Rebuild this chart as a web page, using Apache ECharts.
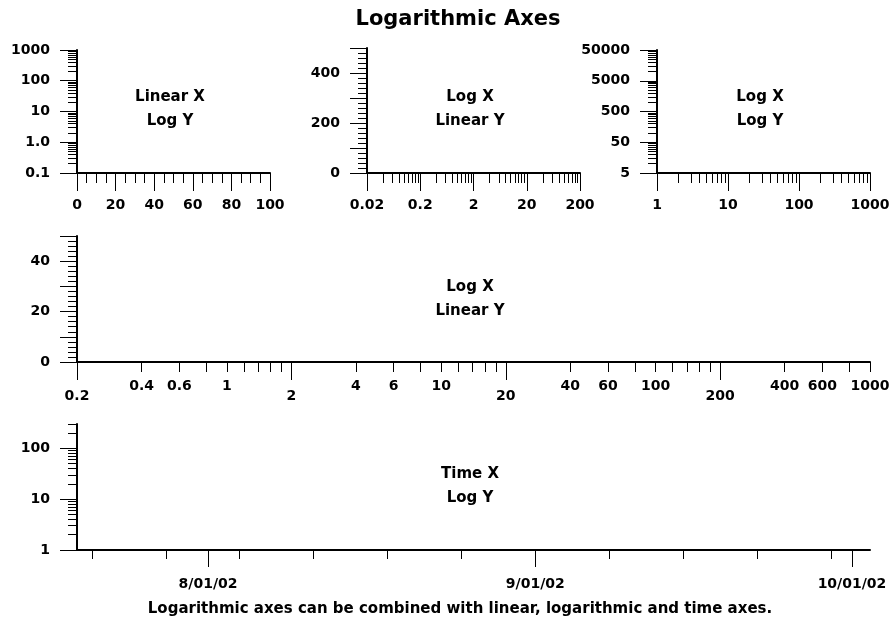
<!DOCTYPE html>
<html>
<head>
<meta charset="utf-8">
<script src="https://cdn.jsdelivr.net/npm/echarts@6/dist/echarts.min.js"></script>
<style>
  html, body { margin: 0; padding: 0; background: #fff; }
  #main { width: 891px; height: 622px; }
</style>
</head>
<body>
<div id="main"></div>
<script>
// panel 1: linear x, log y
var p1XMin = 0, p1XMax = 100;
var p1YDecades = [0.1, 1, 10, 100, 1000];
var p1YLabels = ['0.1', '1.0', '10', '100', '1000'];

// panel 2: log x, linear y
var p2XDecades = [0.02, 0.2, 2, 20, 200];
var p2XLabels = ['0.02', '0.2', '2', '20', '200'];
var p2YMin = 0, p2YMax = 500;
var p2YLabels = [0, 200, 400];

// panel 3: log x, log y
var p3XDecades = [1, 10, 100, 1000];
var p3XLabels = ['1', '10', '100', '1000'];
var p3YDecades = [5, 50, 500, 5000, 50000];
var p3YLabels = ['5', '50', '500', '5000', '50000'];

// panel 4: wide log x, linear y
var p4XMin = 0.2, p4XMax = 1000;
var p4XDecades = [0.2, 2, 20, 200];
var p4XLowLabels = ['0.2', '2', '20', '200'];
var p4XHighLabels = [0.4, 0.6, 1, 4, 6, 10, 40, 60, 100, 400, 600, 1000];
var p4YMin = 0, p4YMax = 50;
var p4YLabels = [0, 20, 40];

// panel 5: time x, log y
var p5XMin = '2002-07-19T14:00', p5XMax = '2002-10-02T17:00';
var p5XMonths = ['2002-08-01', '2002-09-01', '2002-10-01'];
var p5XWeeks = ['2002-07-21', '2002-07-28', '2002-08-04', '2002-08-11', '2002-08-18',
  '2002-08-25', '2002-09-01', '2002-09-08', '2002-09-15', '2002-09-22', '2002-09-29'];
var p5YDecades = [1, 10, 100];
var p5YLabels = ['1', '10', '100'];
var p5YMax = 300;

var minorSteps = [2, 3, 4, 5, 6, 7, 8, 9];

var ink = '#000';
var fontFam = 'DejaVu Sans';

function minorTicks(decades, max) {
  var out = [];
  decades.forEach(function (d) {
    minorSteps.forEach(function (s) {
      if (d * s <= max * 1.000001) out.push(d * s);
    });
  });
  return out;
}
function ts(s) {
  return new Date(s.length === 10 ? s + 'T00:00' : s).getTime();
}
function pad(n) { return (n < 10 ? '0' : '') + n; }
function dateFmt(v) {
  var d = new Date(v);
  return (d.getMonth() + 1) + '/' + pad(d.getDate()) + '/' + pad(d.getFullYear() % 100);
}
function lookup(vals, labels) {
  return function (v) {
    for (var i = 0; i < vals.length; i++) {
      if (Math.abs(Math.log(v / vals[i])) < 1e-6) return labels[i];
    }
    return '';
  };
}
function numFmt(v) { return String(+(+v).toPrecision(6)); }

function axis(grid, pos, type, min, max, c) {
  var a = {
    gridIndex: grid, type: type, position: pos, min: min, max: max,
    axisLine: { show: !!c.line, onZero: false, lineStyle: { color: ink, width: 2 } },
    axisTick: { show: true, inside: false, length: c.len, lineStyle: { color: ink, width: 1 } },
    minorTick: { show: false },
    splitLine: { show: false },
    axisLabel: { show: false },
    axisPointer: { show: false }
  };
  if (c.interval) a.interval = c.interval;
  if (c.ticks) a.axisTick.customValues = c.ticks;
  if (c.minor) a.minorTick = { show: true, splitNumber: c.minor, length: c.minorLen, lineStyle: { color: ink, width: 1 } };
  if (c.labels !== undefined) {
    a.axisLabel = {
      show: true, color: ink, fontFamily: fontFam, fontWeight: 'bold', fontSize: 14,
      margin: c.margin, hideOverlap: false
    };
    if (c.labels) a.axisLabel.customValues = c.labels;
    if (c.fmt) a.axisLabel.formatter = c.fmt;
  }
  return a;
}

var X_MAJ = 18, X_MIN = 10, Y_MAJ = 17, Y_MIN = 9;
var X_MARGIN = 25, Y_MARGIN = 27;

var p5Max = p5YMax;
var xAxes = [
  // panel 1
  axis(0, 'bottom', 'value', p1XMin, p1XMax, { line: true, len: X_MAJ, interval: 20, minor: 4, minorLen: X_MIN, labels: null, margin: X_MARGIN }),
  // panel 2
  axis(1, 'bottom', 'log', p2XDecades[0], p2XDecades[p2XDecades.length - 1], { line: true, len: X_MAJ, ticks: p2XDecades, labels: p2XDecades, fmt: lookup(p2XDecades, p2XLabels), margin: X_MARGIN }),
  axis(1, 'bottom', 'log', p2XDecades[0], p2XDecades[p2XDecades.length - 1], { len: X_MIN, ticks: minorTicks(p2XDecades, p2XDecades[p2XDecades.length - 1]) }),
  // panel 3
  axis(2, 'bottom', 'log', p3XDecades[0], p3XDecades[p3XDecades.length - 1], { line: true, len: X_MAJ, ticks: p3XDecades, labels: p3XDecades, fmt: lookup(p3XDecades, p3XLabels), margin: X_MARGIN }),
  axis(2, 'bottom', 'log', p3XDecades[0], p3XDecades[p3XDecades.length - 1], { len: X_MIN, ticks: minorTicks(p3XDecades, p3XDecades[p3XDecades.length - 1]) }),
  // panel 4
  axis(3, 'bottom', 'log', p4XMin, p4XMax, { line: true, len: X_MAJ, ticks: p4XDecades, labels: p4XDecades, fmt: lookup(p4XDecades, p4XLowLabels), margin: 27 }),
  axis(3, 'bottom', 'log', p4XMin, p4XMax, { len: X_MIN, ticks: minorTicks(p4XDecades, p4XMax), labels: p4XHighLabels, fmt: numFmt, margin: 17 }),
  // panel 5 (millisecond timestamps on a value scale)
  axis(4, 'bottom', 'value', ts(p5XMin), ts(p5XMax), { line: true, len: X_MAJ - 1, ticks: p5XMonths.map(ts), labels: p5XMonths.map(ts), fmt: dateFmt, margin: 27 }),
  axis(4, 'bottom', 'value', ts(p5XMin), ts(p5XMax), { len: X_MIN - 1, ticks: p5XWeeks.map(ts) })
];

var yAxes = [
  // panel 1
  axis(0, 'left', 'log', p1YDecades[0], p1YDecades[p1YDecades.length - 1], { line: true, len: Y_MAJ, ticks: p1YDecades, labels: p1YDecades, fmt: lookup(p1YDecades, p1YLabels), margin: Y_MARGIN }),
  axis(0, 'left', 'log', p1YDecades[0], p1YDecades[p1YDecades.length - 1], { len: Y_MIN, ticks: minorTicks(p1YDecades, p1YDecades[p1YDecades.length - 1]) }),
  // panel 2
  axis(1, 'left', 'value', p2YMin, p2YMax, { line: true, len: Y_MAJ, interval: 100, minor: 5, minorLen: Y_MIN, labels: p2YLabels, margin: Y_MARGIN }),
  // panel 3
  axis(2, 'left', 'log', p3YDecades[0], p3YDecades[p3YDecades.length - 1], { line: true, len: Y_MAJ, ticks: p3YDecades, labels: p3YDecades, fmt: lookup(p3YDecades, p3YLabels), margin: Y_MARGIN }),
  axis(2, 'left', 'log', p3YDecades[0], p3YDecades[p3YDecades.length - 1], { len: Y_MIN, ticks: minorTicks(p3YDecades, p3YDecades[p3YDecades.length - 1]) }),
  // panel 4
  axis(3, 'left', 'value', p4YMin, p4YMax, { line: true, len: Y_MAJ, interval: 10, minor: 5, minorLen: Y_MIN, labels: p4YLabels, margin: Y_MARGIN }),
  // panel 5
  axis(4, 'left', 'log', p5YDecades[0], p5Max, { line: true, len: Y_MAJ, ticks: p5YDecades, labels: p5YDecades, fmt: lookup(p5YDecades, p5YLabels), margin: Y_MARGIN }),
  axis(4, 'left', 'log', p5YDecades[0], p5Max, { len: Y_MIN, ticks: minorTicks(p5YDecades, p5Max) })
];

function label(text, x, y, size) {
  return {
    type: 'text', x: x, y: y, silent: true,
    style: {
      text: text, fill: ink, fontFamily: fontFam, fontWeight: 'bold', fontSize: size,
      align: 'center', verticalAlign: 'middle', textAlign: 'center', textVerticalAlign: 'middle',
      lineHeight: 24
    }
  };
}

var chart = echarts.init(document.getElementById('main'));
chart.setOption({
  backgroundColor: '#fff',
  animation: false,
  grid: [
    { left: 77, top: 50, width: 193, height: 123, containLabel: false, outerBoundsMode: 'none' },
    { left: 367, top: 48, width: 213, height: 125, containLabel: false, outerBoundsMode: 'none' },
    { left: 657, top: 50, width: 213, height: 123, containLabel: false, outerBoundsMode: 'none' },
    { left: 77, top: 236, width: 793, height: 126, containLabel: false, outerBoundsMode: 'none' },
    { left: 77, top: 424, width: 793, height: 126, containLabel: false, outerBoundsMode: 'none' }
  ],
  xAxis: xAxes,
  yAxis: yAxes,
  series: [],
  graphic: [
    label('Logarithmic Axes', 458, 20, 21),
    label('Linear X\nLog Y', 170, 109, 15),
    label('Log X\nLinear Y', 470, 109, 15),
    label('Log X\nLog Y', 760, 109, 15),
    label('Log X\nLinear Y', 470, 299, 15),
    label('Time X\nLog Y', 470, 486, 15),
    label('Logarithmic axes can be combined with linear, logarithmic and time axes.', 460, 609, 15)
  ]
});
</script>
</body>
</html>
